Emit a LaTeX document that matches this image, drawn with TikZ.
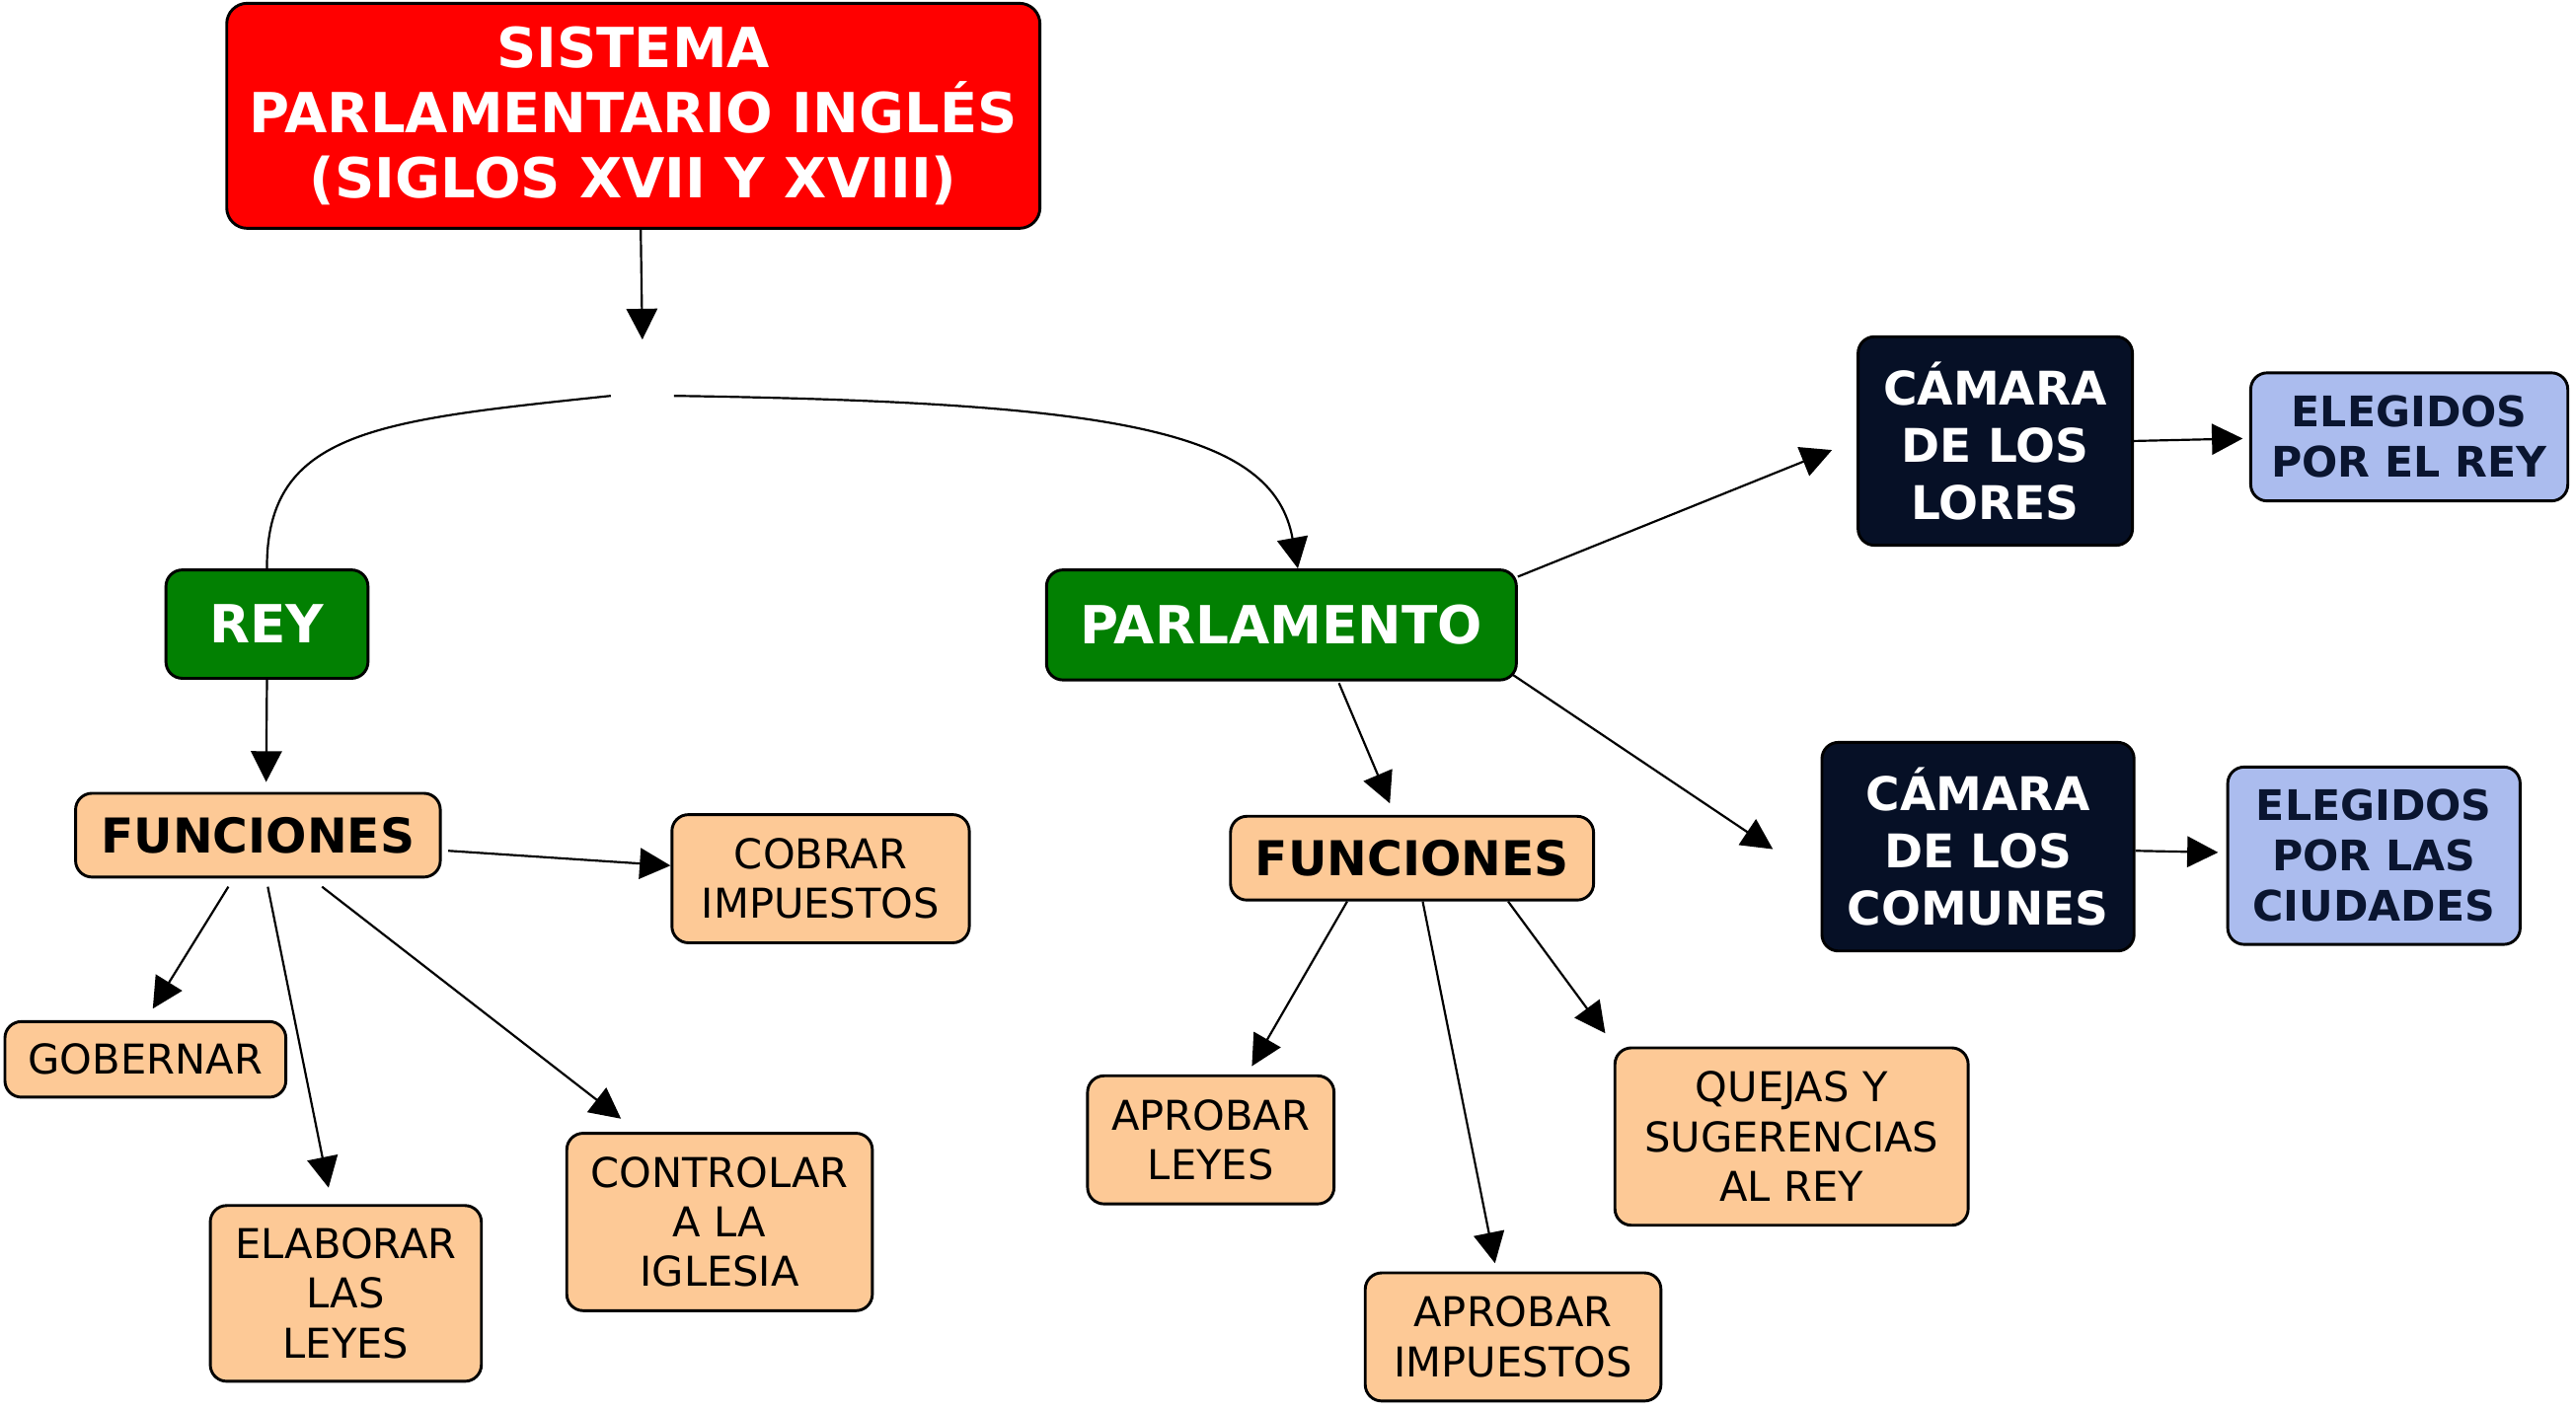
\documentclass[tikz,border=0pt]{standalone}
\usepackage{fontspec}
\setmainfont{DejaVu Sans}
\usetikzlibrary{arrows.meta,calc}
\definecolor{tred}{HTML}{FF0000}
\definecolor{tgreen}{HTML}{028002}
\definecolor{tpeach}{HTML}{FDC996}
\definecolor{tnavy}{HTML}{061026}
\definecolor{tblue}{HTML}{ABBCEE}
\definecolor{tnavytext}{HTML}{0A1530}
\begin{document}
\begin{tikzpicture}[x=0.8pt,y=-0.8pt,
  box/.style={draw=black,line width=1.4pt,rounded corners=8pt,inner sep=0pt,align=center},
  titlebox/.style={box,fill=tred,text=white,rounded corners=10pt,font=\fontsize{26.9}{31.6}\selectfont\bfseries},
  greenbox/.style={box,fill=tgreen,text=white,font=\fontsize{25.6}{30}\selectfont\bfseries},
  funcbox/.style={box,fill=tpeach,text=black,font=\fontsize{23.4}{28}\selectfont\bfseries},
  itembox/.style={box,fill=tpeach,text=black,font=\fontsize{20}{24.2}\selectfont},
  camarabox/.style={box,fill=tnavy,text=white,font=\fontsize{22.6}{28}\selectfont\bfseries},
  elegbox/.style={box,fill=tblue,text=tnavytext,font=\fontsize{20.5}{24.6}\selectfont\bfseries},
  conn/.style={line width=1.05pt,-{Triangle[length=15pt,width=15pt]}},
  link/.style={line width=1.05pt}]
\useasboundingbox (0,0) rectangle (1568,858);

\node[titlebox,minimum width=396pt,minimum height=109.6pt] (title) at (385.5,70.5) {SISTEMA\\PARLAMENTARIO INGLÉS\\(SIGLOS XVII Y XVIII)};
\node[inner sep=0pt,minimum width=30.4pt,minimum height=54.4pt] (hub) at (391,241) {};
\node[greenbox,minimum width=98.4pt,minimum height=52.8pt] (rey) at (162.5,380) {REY};
\node[greenbox,minimum width=228.8pt,minimum height=53.6pt] (parl) at (780,380.5) {PARLAMENTO};
\node[funcbox,minimum width=177.6pt,minimum height=40.8pt] (fr) at (157,508.5) {FUNCIONES};
\node[itembox,minimum width=144.8pt,minimum height=62.4pt] (cobrar) at (499.5,535) {COBRAR\\IMPUESTOS};
\node[itembox,minimum width=136.8pt,minimum height=36.8pt] (gob) at (88.5,645) {GOBERNAR};
\node[itembox,minimum width=132pt,minimum height=85.6pt] (elab) at (210.5,787.5) {ELABORAR\\LAS\\LEYES};
\node[itembox,minimum width=148.8pt,minimum height=86.4pt] (ctrl) at (438,744) {CONTROLAR\\A LA\\IGLESIA};
\node[funcbox,minimum width=176.8pt,minimum height=40.8pt] (fp) at (859.5,522.5) {FUNCIONES};
\node[itembox,minimum width=120pt,minimum height=62.4pt] (aprL) at (737,694) {APROBAR\\LEYES};
\node[itembox,minimum width=144pt,minimum height=62.4pt] (aprI) at (921,814) {APROBAR\\IMPUESTOS};
\node[itembox,minimum width=172pt,minimum height=86.4pt] (quejas) at (1090.5,692) {QUEJAS Y\\SUGERENCIAS\\AL REY};
\node[camarabox,minimum width=133.6pt,minimum height=101.6pt] (lores) at (1214.5,268.5) {CÁMARA\\DE LOS\\LORES};
\node[camarabox,minimum width=152pt,minimum height=101.6pt] (comunes) at (1204,515.5) {CÁMARA\\DE LOS\\COMUNES};
\node[elegbox,minimum width=154.4pt,minimum height=62.4pt] (erey) at (1466.5,266) {ELEGIDOS\\POR EL REY};
\node[elegbox,minimum width=142.4pt,minimum height=86.4pt] (eciud) at (1445,521) {ELEGIDOS\\POR LAS\\CIUDADES};

% connectors
\draw[conn] ($(title.south)+(4.5,0)$) -- (hub.north);
\draw[link] (hub.west) .. controls (230,256) and (162,262) .. (rey.north);
\draw[conn] (hub.east) .. controls (680,245) and (775,262) .. ($(parl.north)+(10,0)$);
\draw[conn] (rey.south) -- ($(fr.north)+(5,-6)$);
\draw[conn] ($(fr.east)+(4,9.5)$) -- ($(cobrar.west)+(0,-8)$);
\draw[conn] ($(fr.south)+(-18,5)$) -- ($(gob.north)+(4.5,-7)$);
\draw[conn] ($(fr.south)+(6,5)$) -- ($(elab.north)+(-10.5,-10)$);
\draw[conn] ($(fr.south)+(39,5)$) -- ($(ctrl.north)+(-60,-8)$);
\draw[conn] ($(parl.south)+(35,1)$) -- ($(fp.north)+(-13.5,-7)$);
\draw[conn] ($(parl.north east)+(0,5)$) -- ($(lores.west)+(-15,5.5)$);
\draw[conn] ($(parl.south east)+(-3,-4)$) -- ($(comunes.west)+(-29,1.5)$);
\draw[conn] (lores.east) -- ($(erey.west)+(-4,1)$);
\draw[conn] ($(comunes.east)+(0,2.5)$) -- ($(eciud.west)+(-5,-2)$);
\draw[conn] ($(fp.south)+(-39.5,0)$) -- ($(aprL.north)+(25,-5)$);
\draw[conn] ($(fp.south)+(6.5,0)$) -- ($(aprI.north)+(-11,-5)$);
\draw[conn] ($(fp.south)+(58.5,0)$) -- ($(quejas.north west)+(-5,-8)$);
\end{tikzpicture}
\end{document}
